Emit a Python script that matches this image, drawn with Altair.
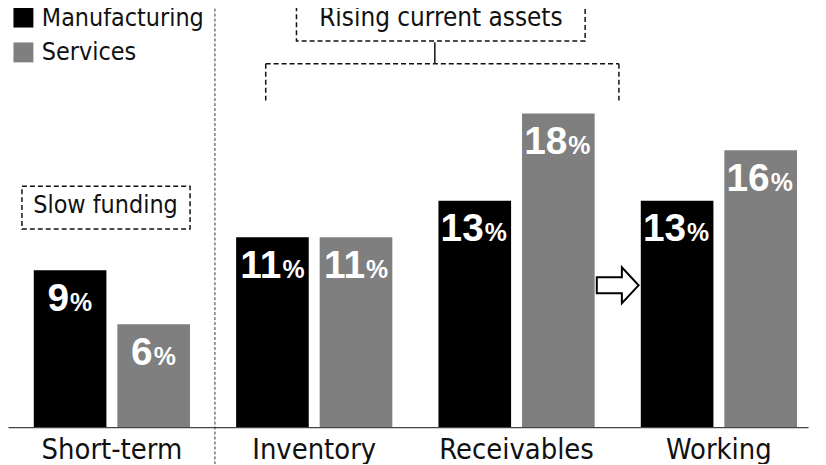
import altair as alt
import pandas as pd

categories = ["Short-term", "Inventory", "Receivables", "Working"]
manufacturing = [9.0, 10.9, 13.0, 13.0]
services = [5.9, 10.9, 18.0, 15.9]
series_names = ["Manufacturing", "Services"]
series_colors = ["#000000", "#7f7f7f"]

# annotation positions in "category index" units (x) and percent (y)
ann_texts = ["Slow funding", "Rising current assets"]
ann_text_x = [-0.032, 1.626]
ann_text_y = [12.3, 23.05]
box_x = [-0.445, 0.912]
box_x2 = [0.386, 2.339]
box_y = [13.83, 24.8]
box_y2 = [11.37, 22.17]
sep_x = [0.509]
bracket_x = [0.76, 2.506]
bracket_y = [20.86, 18.74]
bracket_mid_x = [1.596]
bracket_mid_y = [22.1, 20.86]
arrow_x = [2.5]
arrow_y = [8.14]

FONT = "DejaVu Sans Condensed, DejaVu Sans, sans-serif"
NUMFONT = "Liberation Sans, Arial, sans-serif"

rows = []
for i, c in enumerate(categories):
    rows.append({"cat": c, "series": "Manufacturing", "value": manufacturing[i],
                 "num": str(round(manufacturing[i])), "pct": "%"})
    rows.append({"cat": c, "series": "Services", "value": services[i],
                 "num": str(round(services[i])), "pct": "%"})
df = pd.DataFrame(rows)

xscale = alt.Scale(domain=categories, paddingInner=0.228, paddingOuter=0.091, align=0.7)
yscale = alt.Scale(domain=[0, 24])
offscale = alt.Scale(domain=series_names, paddingInner=0.131, paddingOuter=0)

X = alt.X("cat:N", scale=xscale,
          axis=alt.Axis(title=None, ticks=False, labelAngle=0, labelFont=FONT,
                        labelFontSize=29, labelColor="#111111", labelPadding=9,
                        domainColor="#444444", domainWidth=1.2))
Y = alt.Y("value:Q", scale=yscale, axis=None)
XO = alt.XOffset("series:N", scale=offscale)

bars = alt.Chart(df).mark_bar().encode(
    x=X, xOffset=XO, y=Y,
    color=alt.Color("series:N", scale=alt.Scale(domain=series_names, range=series_colors),
                    legend=alt.Legend(orient="none", legendX=3, legendY=-4, title=None,
                                      symbolType="square", symbolSize=400,
                                      symbolStrokeWidth=0, labelFont=FONT,
                                      labelFontSize=25, labelOffset=6, labelLimit=0,
                                      labelColor="#111111", rowPadding=9, padding=0)),
)
nums = alt.Chart(df).mark_text(align="right", baseline="alphabetic",
                               dx=alt.expr("length(datum.num) > 1 ? 9 : -1"), dy=41,
                               font=NUMFONT, fontSize=39, fontWeight="bold",
                               color="white").encode(x=X, xOffset=XO, y=Y, text="num:N")
pcts = alt.Chart(df).mark_text(align="left", baseline="alphabetic",
                               dx=alt.expr("length(datum.num) > 1 ? 10 : 0"), dy=41,
                               font=NUMFONT, fontSize=25, fontWeight="bold",
                               color="white").encode(x=X, xOffset=XO, y=Y, text="pct:N")
bar_layer = alt.layer(bars, nums, pcts)

# linear x scale aligned with category centres (index units)
ascale = alt.Scale(domain=[-0.514, 3.441], nice=False, zero=False)
AX = lambda f: alt.X(f, type="quantitative", scale=ascale, axis=None)
AY = lambda f: alt.Y(f, type="quantitative", scale=yscale, axis=None)

DASH = [5, 3]
INK = "#111111"

sep_df = pd.DataFrame({"x": sep_x, "y": [24.6], "y2": [-4.0]})
separator = alt.Chart(sep_df).mark_rule(color="#333333", strokeWidth=1, strokeDash=[3, 2]).encode(
    x=AX("x"), y=AY("y"), y2="y2")

box_df = pd.DataFrame({"x": box_x, "x2": box_x2, "y": box_y, "y2": box_y2})
boxes = alt.Chart(box_df).mark_rect(fill="white", stroke=INK, strokeWidth=1.5, strokeDash=DASH).encode(
    x=AX("x"), x2="x2", y=AY("y"), y2="y2")

txt_df = pd.DataFrame({"t": ann_texts, "x": ann_text_x, "y": ann_text_y, "s": [25, 26]})
texts = alt.Chart(txt_df).mark_text(font=FONT, color=INK, baseline="alphabetic").encode(
    x=AX("x"), y=AY("y"), text="t:N",
    size=alt.Size("s:Q", scale=None, legend=None))

brv_df = pd.DataFrame({"x": bracket_x, "y": [bracket_y[0]] * 2, "y2": [bracket_y[1]] * 2})
br_v = alt.Chart(brv_df).mark_rule(color=INK, strokeWidth=1.5, strokeDash=DASH).encode(
    x=AX("x"), y=AY("y"), y2="y2")
brh_df = pd.DataFrame({"x": [bracket_x[0]], "x2": [bracket_x[1]], "y": [bracket_y[0]]})
br_h = alt.Chart(brh_df).mark_rule(color=INK, strokeWidth=1.5, strokeDash=DASH).encode(
    x=AX("x"), x2="x2", y=AY("y"))
brm_df = pd.DataFrame({"x": bracket_mid_x, "y": [bracket_mid_y[0]], "y2": [bracket_mid_y[1]]})
br_m = alt.Chart(brm_df).mark_rule(color=INK, strokeWidth=1.5).encode(
    x=AX("x"), y=AY("y"), y2="y2")

ARROW = "M-1,-0.38 L0.2,-0.38 L0.2,-0.86 L1,0 L0.2,0.86 L0.2,0.38 L-1,0.38 Z"
arr_df = pd.DataFrame({"x": arrow_x, "y": arrow_y})
arrow = alt.Chart(arr_df).mark_point(shape=ARROW, size=1764, filled=True, fill="white",
                                     stroke="#000000", strokeWidth=2, opacity=1).encode(
    x=AX("x"), y=AY("y"))

ann_layer = alt.layer(separator, boxes, texts, br_v, br_h, br_m, arrow)

chart = alt.layer(bar_layer, ann_layer).resolve_scale(x="independent").properties(
    width=804, height=420,
    autosize=alt.AutoSizeParams(type="none"),
    padding={"left": 0, "top": 0, "right": 10, "bottom": 36},
    background="white",
).configure_view(stroke=None)

chart.save("out.html", embed_options={"renderer": "svg", "actions": False})
